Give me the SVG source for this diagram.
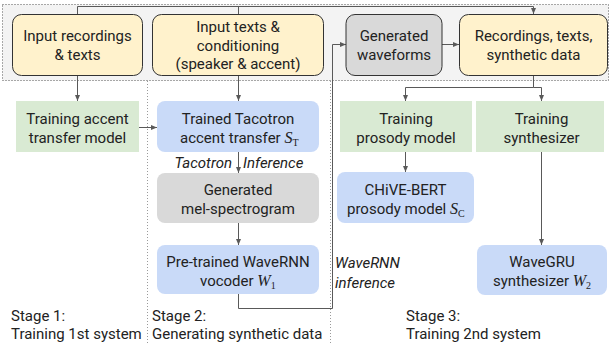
<svg xmlns="http://www.w3.org/2000/svg" width="611" height="345" viewBox="0 0 611 345">
<defs>
<marker id="arr" viewBox="0 0 6 6" refX="6" refY="3" markerWidth="6" markerHeight="6" orient="auto" markerUnits="userSpaceOnUse">
<path d="M0,0.5 L6,3 L0,5.5 z" fill="#595959"/>
</marker>
<style>
text{font-family:Roboto,"Liberation Sans",sans-serif;font-size:15px;fill:#222;}
.c{text-anchor:middle;}
.it{font-style:italic;}
.m{font-family:"Liberation Serif","DejaVu Serif",serif;font-style:italic;font-size:16px;}
.sub{font-family:"Liberation Serif","DejaVu Serif",serif;font-size:10px;}
.y{fill:#fff2cc;stroke:#333;stroke-width:1;}
.g{fill:#d9d9d9;stroke:#333;stroke-width:1;}
.gn{fill:#d9d9d9;}
.b{fill:#c9daf8;}
.gr{fill:#d9ead3;}
.ln{fill:none;stroke:#595959;stroke-width:1;}
.dot{fill:none;stroke:#9a9a9a;stroke-width:1;stroke-dasharray:1 2;}
</style>
</defs>
<rect x="2.5" y="4.5" width="606" height="76" fill="#f3f3f3" stroke="#555" stroke-width="1" stroke-dasharray="1 2"/>
<line class="dot" x1="147.5" y1="81" x2="147.5" y2="345"/>
<line class="dot" x1="330.5" y1="81" x2="330.5" y2="345"/>

<g id="connectors">
<path class="ln" d="M77.5,14 V6.5 H533.5 V14" marker-end="url(#arr)"/>
<path class="ln" d="M238.5,14 V6.5"/>
<path class="ln" d="M442,44.5 H459" marker-end="url(#arr)"/>
<path class="ln" d="M77.5,75 V101" marker-end="url(#arr)"/>
<path class="ln" d="M238.5,75 V101" marker-end="url(#arr)"/>
<path class="ln" d="M139,127.5 H157" marker-end="url(#arr)"/>
<path class="ln" d="M238.5,151 V173" marker-end="url(#arr)"/>
<path class="ln" d="M238.5,223 V245" marker-end="url(#arr)"/>
<path class="ln" d="M238.5,294 V308.5 H332.5 V44.5 H346" marker-end="url(#arr)"/>
<path class="ln" d="M533.5,75 V87.5 H405.5 V101" marker-end="url(#arr)"/>
<path class="ln" d="M533.5,87.5 H541.5 V101" marker-end="url(#arr)"/>
<path class="ln" d="M405.5,152 V172" marker-end="url(#arr)"/>
<path class="ln" d="M541.5,152 V245" marker-end="url(#arr)"/>
</g>

<g id="input-recordings">
<rect class="y" x="12.5" y="14.5" width="130" height="61" rx="9"/>
<text class="c" x="77.5" y="40.5">Input recordings</text>
<text class="c" x="77.5" y="59.5">&amp; texts</text>
</g>
<g id="input-texts">
<rect class="y" x="152.5" y="14.5" width="171" height="61" rx="9"/>
<text class="c" x="238" y="32">Input texts &amp;</text>
<text class="c" x="238" y="50.5">conditioning</text>
<text class="c" x="238" y="69">(speaker &amp; accent)</text>
</g>
<g id="generated-waveforms">
<rect class="g" x="346" y="14.5" width="96" height="61" rx="9"/>
<text class="c" x="394" y="40.5">Generated</text>
<text class="c" x="394" y="59.5">waveforms</text>
</g>
<g id="recordings-synthetic">
<rect class="y" x="459.5" y="14.5" width="148" height="61" rx="9"/>
<text class="c" x="533.5" y="40.5">Recordings, texts,</text>
<text class="c" x="533.5" y="59.5">synthetic data</text>
</g>

<g id="training-accent">
<rect class="gr" x="16" y="101" width="123" height="51"/>
<text class="c" x="77.5" y="123.5">Training accent</text>
<text class="c" x="77.5" y="142.5">transfer model</text>
</g>
<g id="trained-tacotron">
<rect class="b" x="157" y="101" width="162" height="51" rx="8"/>
<text class="c" x="238" y="123.5">Trained Tacotron</text>
<text x="180" y="142.5">accent transfer <tspan class="m">S</tspan><tspan class="sub" dy="3">T</tspan></text>
</g>
<g id="tacotron-inference-label">
<text class="it" x="232" y="167.5" text-anchor="end">Tacotron</text>
<text class="it" x="243" y="167.5">Inference</text>
</g>
<g id="mel-spectrogram">
<rect class="gn" x="157" y="173" width="162" height="50" rx="8"/>
<text class="c" x="238" y="195">Generated</text>
<text class="c" x="238" y="214">mel-spectrogram</text>
</g>
<g id="wavernn-vocoder">
<rect class="b" x="157" y="245" width="162" height="49" rx="8"/>
<text class="c" x="238" y="266.5">Pre-trained WaveRNN</text>
<text x="200" y="285.5">vocoder <tspan class="m">W</tspan><tspan class="sub" dy="3">1</tspan></text>
</g>
<g id="wavernn-inference-label">
<text class="it" x="335" y="267.5">WaveRNN</text>
<text class="it" x="335" y="287.5">inference</text>
</g>

<g id="training-prosody">
<rect class="gr" x="340" y="101" width="132" height="51"/>
<text class="c" x="406" y="123.5">Training</text>
<text class="c" x="406" y="142.5">prosody model</text>
</g>
<g id="training-synth">
<rect class="gr" x="476" y="101" width="128" height="51"/>
<text class="c" x="541.5" y="123.5">Training</text>
<text class="c" x="541.5" y="142.5">synthesizer</text>
</g>
<g id="chive-bert">
<rect class="b" x="337" y="172" width="137" height="51" rx="8"/>
<text class="c" x="405.5" y="194.5">CHiVE-BERT</text>
<text x="347" y="213.5">prosody model <tspan class="m">S</tspan><tspan class="sub" dy="3">C</tspan></text>
</g>
<g id="wavegru">
<rect class="b" x="477" y="245" width="130" height="50" rx="8"/>
<text class="c" x="542" y="266.5">WaveGRU</text>
<text x="493" y="285.5">synthesizer <tspan class="m">W</tspan><tspan class="sub" dy="3">2</tspan></text>
</g>

<g id="stage-labels">
<text x="11" y="321">Stage 1:</text>
<text x="11" y="339">Training 1st system</text>
<text x="152" y="321">Stage 2:</text>
<text x="152" y="339">Generating synthetic data</text>
<text x="406" y="321">Stage 3:</text>
<text x="406" y="339">Training 2nd system</text>
</g>
</svg>
